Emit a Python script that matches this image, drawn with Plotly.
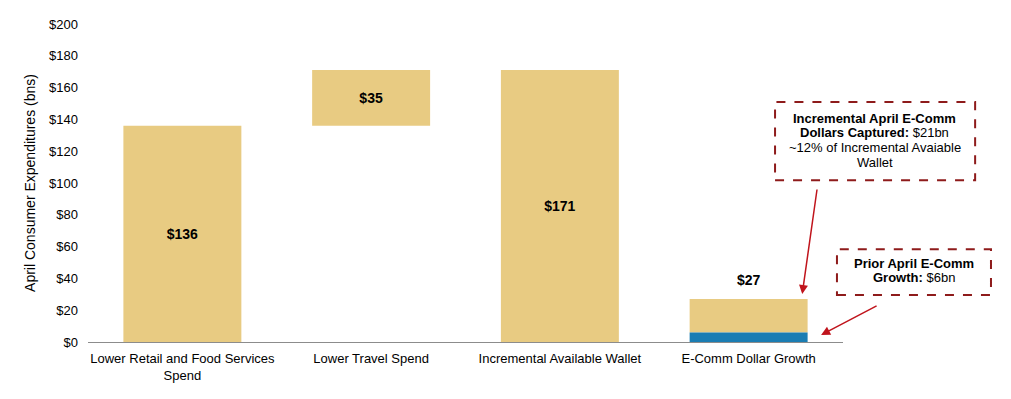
import plotly.graph_objects as go

categories = ["Lower Retail and Food Services<br>Spend", "Lower Travel Spend",
              "Incremental Available Wallet", "E-Comm Dollar Growth"]
gold_values = [136, 35, 171, 21]
gold_bases = [0, 136, 0, 6]
gold_labels = ["$136", "$35", "$171", ""]
prior_ecomm = [6]
ecomm_total = 27
y_ticks = [0, 20, 40, 60, 80, 100, 120, 140, 160, 180, 200]
y_tick_labels = ["$" + str(v) for v in y_ticks]

box1_lines = ["<b>Incremental April E-Comm</b>", "<b>Dollars Captured:</b> $21bn",
              "~12% of Incremental Avaiable", "Wallet"]
box2_lines = ["<b>Prior April E-Comm</b>", "<b>Growth:</b> $6bn"]

GOLD = "#E8CB82"
BLUE = "#1B7DB3"
BOX = "#8E1B1B"
ARROW = "#C0141C"
FONT = "Liberation Sans, Arial, sans-serif"

fig = go.Figure()
fig.add_trace(go.Bar(
    x=categories, y=gold_values, base=gold_bases,
    marker=dict(color=GOLD, line=dict(width=0)),
    text=gold_labels, textposition="inside", insidetextanchor="middle",
    textfont=dict(family=FONT, size=14, color="#000000"),
    texttemplate="<b>%{text}</b>", hoverinfo="skip", width=0.625,
))
fig.add_trace(go.Bar(
    x=[categories[3]], y=prior_ecomm, base=[0],
    marker=dict(color=BLUE, line=dict(width=0)),
    hoverinfo="skip", width=0.625,
))

fig.add_annotation(x=categories[3], y=ecomm_total, xref="x", yref="y",
                   text="<b>$27</b>", showarrow=False, yanchor="bottom", yshift=9,
                   font=dict(family=FONT, size=14, color="#000000"))

# dashed boxes
fig.add_shape(type="rect", xref="paper", yref="paper", x0=0.910, x1=1.175, y0=0.509, y1=0.755,
              line=dict(color=BOX, width=2, dash="dash"), fillcolor="rgba(0,0,0,0)")
fig.add_shape(type="rect", xref="paper", yref="paper", x0=0.992, x1=1.196, y0=0.148, y1=0.292,
              line=dict(color=BOX, width=2, dash="dash"), fillcolor="rgba(0,0,0,0)")

for line, ypos in zip(box1_lines, [0.704, 0.660, 0.613, 0.566]):
    fig.add_annotation(xref="paper", yref="paper", x=1.042, y=ypos, showarrow=False,
                       xanchor="center", yanchor="middle", text=line,
                       font=dict(family=FONT, size=13, color="#000000"))
for line, ypos in zip(box2_lines, [0.248, 0.204]):
    fig.add_annotation(xref="paper", yref="paper", x=1.094, y=ypos, showarrow=False,
                       xanchor="center", yanchor="middle", text=line,
                       font=dict(family=FONT, size=13, color="#000000"))

# arrows
fig.add_annotation(xref="paper", yref="paper", x=0.946, y=0.151, ax=15, ay=-106,
                   axref="pixel", ayref="pixel", text="", showarrow=True,
                   arrowhead=2, arrowsize=1.2, arrowwidth=1.5, arrowcolor=ARROW)
fig.add_annotation(xref="paper", yref="paper", x=0.971, y=0.022, ax=57, ay=-30,
                   axref="pixel", ayref="pixel", text="", showarrow=True,
                   arrowhead=2, arrowsize=1.2, arrowwidth=1.5, arrowcolor=ARROW)

fig.update_layout(
    width=995, height=383, barmode="overlay", showlegend=False,
    margin=dict(l=80, r=160, t=16, b=49, autoexpand=False),
    paper_bgcolor="white", plot_bgcolor="white",
    font=dict(family=FONT, size=13, color="#000000"),
    xaxis=dict(showline=True, linecolor="#8C8C8C", linewidth=1, showgrid=False,
               ticks="", ticklabelstandoff=4, automargin=False,
               tickfont=dict(family=FONT, size=13, color="#000000")),
    yaxis=dict(range=[0, 200], tickvals=y_ticks, ticktext=y_tick_labels, showgrid=False,
               zeroline=False, showline=False, ticks="", ticklabelstandoff=9,
               automargin=False,
               tickfont=dict(family=FONT, size=13, color="#000000"),
               title=dict(text="April Consumer Expenditures (bns)", standoff=10,
                          font=dict(family=FONT, size=14, color="#000000"))),
)

fig.write_html("out.html")
